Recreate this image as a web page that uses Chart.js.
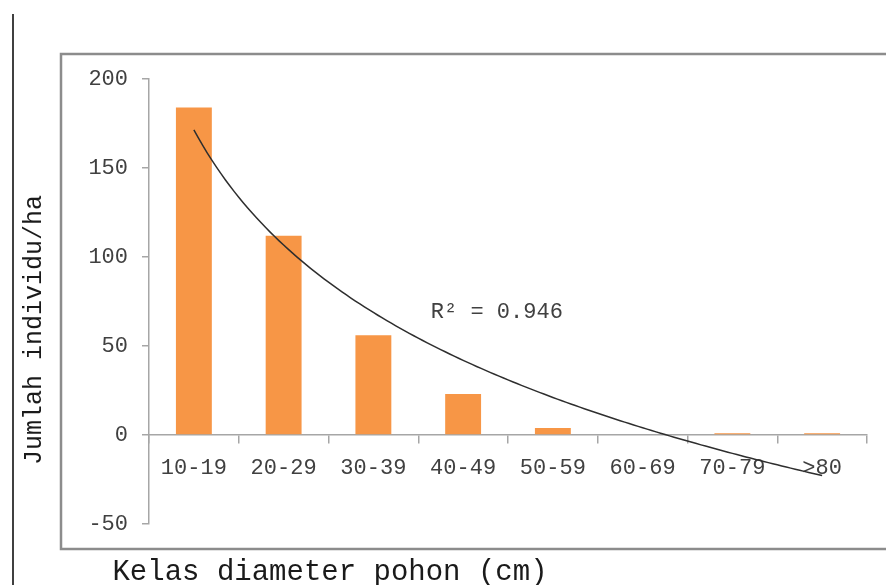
<!DOCTYPE html>
<html>
<head>
<meta charset="utf-8">
<style>
  html, body { margin: 0; padding: 0; background: #ffffff; }
  #wrap { position: relative; width: 886px; height: 585px; }
  canvas { display: block; }
</style>
<script src="https://cdn.jsdelivr.net/npm/chart.js@4.4.1/dist/chart.umd.min.js"></script>
</head>
<body>
<div id="wrap"><canvas id="chart" width="886" height="585"></canvas></div>
<script>
// Tree density per diameter class
const categories = ['10-19', '20-29', '30-39', '40-49', '50-59', '60-69', '70-79', '>80'];
const density = [184, 112, 56, 23, 4, 0, 1, 1];
const yTicks = [-50, 0, 50, 100, 150, 200];
const yTitle = 'Jumlah individu/ha';
const xTitle = 'Kelas diameter pohon (cm)';

// Logarithmic trendline y = a*ln(x) + b fitted to the bars by least squares
const lnX = density.map((_, i) => Math.log(i + 1));
const n = density.length;
const mX = lnX.reduce((s, v) => s + v, 0) / n;
const mY = density.reduce((s, v) => s + v, 0) / n;
let sxx = 0, sxy = 0, syy = 0;
for (let i = 0; i < n; i++) {
  sxx += (lnX[i] - mX) ** 2;
  sxy += (lnX[i] - mX) * (density[i] - mY);
  syy += (density[i] - mY) ** 2;
}
const slope = sxy / sxx;
const intercept = mY - slope * mX;
const r2 = (slope * sxy) / syy;
const trend = [];
for (let k = 0; k <= 140; k++) {
  const x = 1 + k * 0.05;
  trend.push({ x: x, y: slope * Math.log(x) + intercept });
}

const MONO = '"Liberation Mono", "Courier New", monospace';
const AXIS = '#a6a6a6';
const TEXT = '#404040';

// Frame, outer rule, axis titles and the R² note
const decorations = {
  id: 'decorations',
  beforeDraw(chart) {
    const ctx = chart.ctx;
    ctx.save();
    ctx.fillStyle = '#ffffff';
    ctx.fillRect(0, 0, chart.width, chart.height);
    ctx.strokeStyle = '#8c8c8c';
    ctx.lineWidth = 2.5;
    ctx.strokeRect(61, 54, 840, 495);
    ctx.strokeStyle = '#000000';
    ctx.lineWidth = 1.5;
    ctx.beginPath();
    ctx.moveTo(13, 14);
    ctx.lineTo(13, 585);
    ctx.stroke();
    ctx.restore();
  },
  afterDraw(chart) {
    const ctx = chart.ctx;
    const xs = chart.scales.xt, ys = chart.scales.y;
    ctx.save();
    ctx.fillStyle = '#1a1a1a';
    ctx.textAlign = 'center';
    ctx.textBaseline = 'middle';
    ctx.font = '29px ' + MONO;
    ctx.fillText(xTitle, 330, 572);
    ctx.translate(34, 330);
    ctx.rotate(-Math.PI / 2);
    ctx.font = '25px ' + MONO;
    ctx.fillText(yTitle, 0, 0);
    ctx.restore();
    ctx.save();
    ctx.fillStyle = TEXT;
    ctx.font = '22px ' + MONO;
    ctx.textAlign = 'left';
    ctx.textBaseline = 'middle';
    ctx.fillText('R\u00B2 = ' + r2.toFixed(3), xs.getPixelForValue(3.64), ys.getPixelForValue(69));
    ctx.restore();
  }
};

new Chart(document.getElementById('chart'), {
  type: 'bar',
  data: {
    labels: categories,
    datasets: [
      {
        type: 'bar',
        data: density,
        xAxisID: 'x',
        backgroundColor: '#f79646',
        borderWidth: 0,
        grouped: false,
        barPercentage: 0.4,
        categoryPercentage: 1.0,
        order: 2
      },
      {
        type: 'line',
        data: trend,
        xAxisID: 'xt',
        borderColor: '#2e2e2e',
        borderWidth: 1.5,
        pointRadius: 0,
        fill: false,
        tension: 0,
        order: 1
      }
    ]
  },
  options: {
    responsive: false,
    animation: false,
    devicePixelRatio: 1,
    layout: { padding: { top: 79, bottom: 61, left: 0, right: 19 } },
    plugins: { legend: { display: false }, tooltip: { enabled: false }, title: { display: false } },
    scales: {
      x: {
        type: 'category',
        position: { y: 0 },
        offset: true,
        grid: { display: true, drawOnChartArea: false, drawTicks: true, tickLength: 8, color: AXIS, lineWidth: 1.5, offset: true },
        border: { display: true, color: AXIS, width: 1.5 },
        ticks: { color: TEXT, font: { family: MONO, size: 22 }, padding: 12, maxRotation: 0, autoSkip: false }
      },
      xt: {
        type: 'linear',
        display: false,
        offset: false,
        grid: { offset: false },
        min: 0.5,
        max: 8.5
      },
      y: {
        type: 'linear',
        min: yTicks[0],
        max: yTicks[yTicks.length - 1],
        afterFit(scale) { scale.width = 149; },
        afterBuildTicks(scale) { scale.ticks = yTicks.map(v => ({ value: v })); },
        grid: { display: true, drawOnChartArea: false, drawTicks: true, tickLength: 7, color: AXIS, lineWidth: 1.5 },
        border: { display: true, color: AXIS, width: 1.5 },
        ticks: { color: TEXT, font: { family: MONO, size: 22 }, padding: 14 }
      }
    }
  },
  plugins: [decorations]
});
</script>
</body>
</html>
